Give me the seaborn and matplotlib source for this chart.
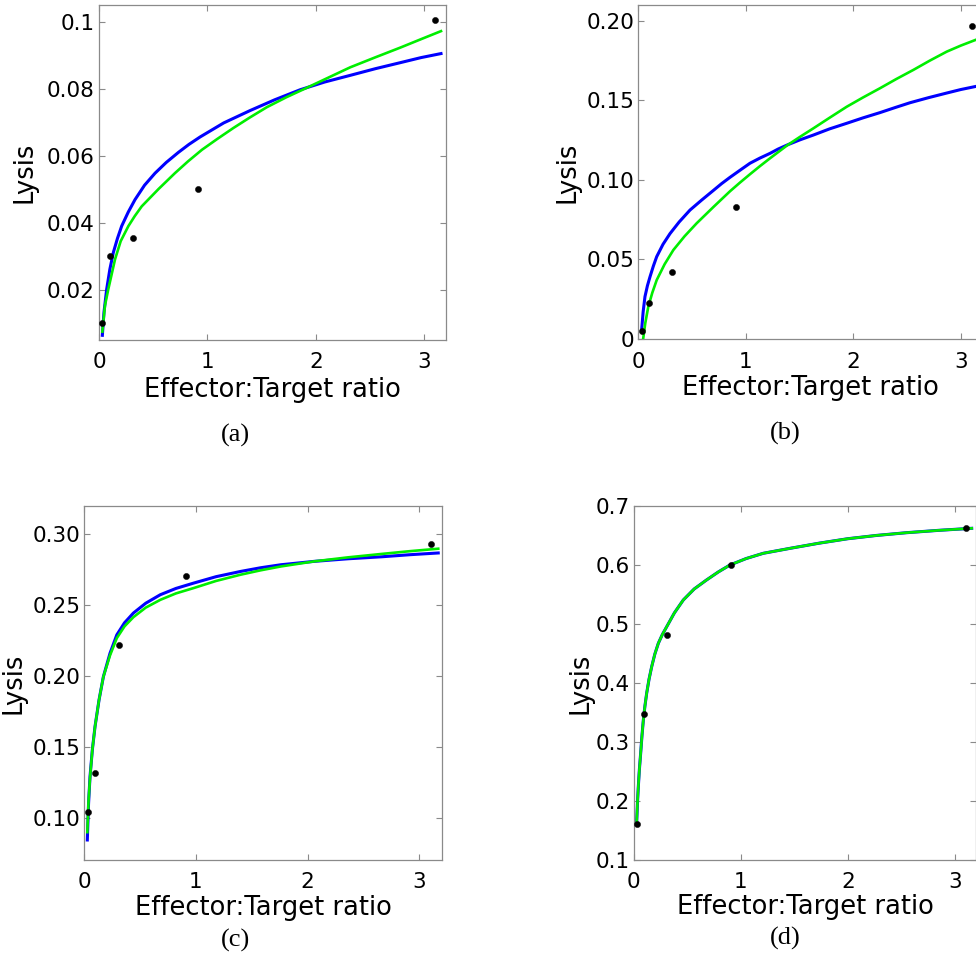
import matplotlib
matplotlib.use("Agg")
import matplotlib.pyplot as plt
import seaborn as sns

# ---- data -------------------------------------------------------------
# measured lysis at each effector:target ratio
et_ratio = [0.03, 0.1, 0.31, 0.91, 3.1]
lysis_a = [0.0101, 0.0301, 0.0355, 0.0501, 0.1005]
lysis_b = [0.0052, 0.0228, 0.0419, 0.0827, 0.1963]
lysis_c = [0.104, 0.1315, 0.222, 0.2703, 0.2932]
lysis_d = [0.1615, 0.3467, 0.4805, 0.5996, 0.6622]

# fitted curves, model 1 (blue) and model 2 (green)
a_blue_x = [0.031, 0.046, 0.071, 0.1, 0.132, 0.17, 0.209, 0.27, 0.332, 0.42,
            0.517, 0.62, 0.732, 0.83, 0.932, 1.15, 1.394, 1.62, 1.855, 2.08,
            2.317, 2.55, 2.78, 2.97, 3.154]
a_blue_y = [0.0064, 0.0133, 0.0202, 0.0261, 0.0311, 0.0353, 0.039, 0.0432, 0.0469,
            0.0512, 0.0548, 0.058, 0.061, 0.0634, 0.0656, 0.0698, 0.0735, 0.0767,
            0.0797, 0.082, 0.084, 0.086, 0.0878, 0.0893, 0.0905]
a_green_x = [0.031, 0.055, 0.086, 0.148, 0.2, 0.271, 0.33, 0.394, 0.55, 0.70,
             0.82, 0.95, 1.09, 1.24, 1.39, 1.548, 1.73, 1.917, 2.12, 2.317,
             2.55, 2.78, 2.97, 3.154]
a_green_y = [0.0075, 0.0153, 0.0202, 0.0291, 0.0345, 0.039, 0.042, 0.0449, 0.0501,
             0.0548, 0.0583, 0.0618, 0.065, 0.0683, 0.0714, 0.0745, 0.0775, 0.0803,
             0.0834, 0.0864, 0.0894, 0.0923, 0.0948, 0.0972]

b_blue_x = [0.031, 0.045, 0.062, 0.085, 0.109, 0.14, 0.171, 0.23, 0.295, 0.38,
            0.481, 0.59, 0.698, 0.775, 0.852, 0.946, 1.039, 1.13, 1.225, 1.3,
            1.386, 1.5, 1.628, 1.78, 1.939, 2.09, 2.248, 2.39, 2.527, 2.7,
            2.869, 3.0, 3.15]
b_blue_y = [0.0057, 0.017, 0.0266, 0.0335, 0.0391, 0.0458, 0.0517, 0.0595, 0.0662,
            0.0735, 0.081, 0.0873, 0.0933, 0.0976, 0.1015, 0.106, 0.1104, 0.1136,
            0.1166, 0.1193, 0.1219, 0.125, 0.1281, 0.132, 0.1355, 0.1389, 0.1422,
            0.1454, 0.1484, 0.1516, 0.1545, 0.1567, 0.1588]
b_green_x = [0.045, 0.065, 0.093, 0.13, 0.171, 0.245, 0.326, 0.43, 0.543, 0.7,
             0.853, 0.945, 1.039, 1.13, 1.225, 1.386, 1.5, 1.628, 1.78, 1.939,
             2.09, 2.248, 2.4, 2.558, 2.71, 2.869, 3.0, 3.15]
b_green_y = [0.0, 0.010, 0.0203, 0.029, 0.037, 0.047, 0.0559, 0.0645, 0.0727,
             0.083, 0.0928, 0.0982, 0.1035, 0.1085, 0.1135, 0.1217, 0.1268, 0.1323,
             0.139, 0.1459, 0.1517, 0.1575, 0.1633, 0.169, 0.1748, 0.1805, 0.1843,
             0.1882]

c_blue_x = [0.027, 0.038, 0.051, 0.072, 0.096, 0.132, 0.171, 0.23, 0.291, 0.36,
            0.44, 0.55, 0.681, 0.82, 0.98, 1.18, 1.4, 1.58, 1.76, 2.06, 2.36,
            2.66, 2.92, 3.169]
c_blue_y = [0.0845, 0.110, 0.129, 0.148, 0.1644, 0.1832, 0.1996, 0.216, 0.229,
            0.2375, 0.2444, 0.2513, 0.2573, 0.2617, 0.2655, 0.27, 0.2737, 0.2763,
            0.2784, 0.2808, 0.2826, 0.284, 0.2855, 0.2867]
c_green_x = [0.027, 0.038, 0.051, 0.072, 0.096, 0.132, 0.171, 0.23, 0.291, 0.36,
             0.44, 0.55, 0.681, 0.82, 0.98, 1.18, 1.4, 1.58, 1.76, 2.06, 2.36,
             2.66, 2.92, 3.169]
c_green_y = [0.090, 0.112, 0.128, 0.148, 0.1644, 0.1832, 0.1996, 0.2145, 0.2267,
             0.235, 0.2415, 0.2482, 0.2537, 0.2582, 0.262, 0.267, 0.2714, 0.2745,
             0.2772, 0.2808, 0.2836, 0.286, 0.288, 0.2897]

d_green_x = [0.028, 0.035, 0.043, 0.053, 0.065, 0.077, 0.09, 0.105, 0.121, 0.143,
             0.168, 0.197, 0.23, 0.268, 0.308, 0.38, 0.463, 0.565, 0.68, 0.79,
             0.899, 1.05, 1.21, 1.46, 1.73, 2.0, 2.27, 2.549, 2.85, 3.156]
d_green_y = [0.1649, 0.196, 0.224, 0.253, 0.2807, 0.31, 0.337, 0.361, 0.3823,
             0.406, 0.4274, 0.4485, 0.467, 0.482, 0.495, 0.5185, 0.5403, 0.559,
             0.5742, 0.5878, 0.5996, 0.6105, 0.6194, 0.6278, 0.6365, 0.6441, 0.6497,
             0.6543, 0.6583, 0.6617]
# in panel (d) both fits coincide
d_blue_x = d_green_x
d_blue_y = d_green_y

x_ticks = [0, 1, 2, 3]
y_ticks_a = [0.02, 0.04, 0.06, 0.08, 0.1]
y_labels_a = ["0.02", "0.04", "0.06", "0.08", "0.1"]
y_ticks_b = [0, 0.05, 0.10, 0.15, 0.20]
y_labels_b = ["0", "0.05", "0.10", "0.15", "0.20"]
y_ticks_c = [0.10, 0.15, 0.20, 0.25, 0.30]
y_labels_c = ["0.10", "0.15", "0.20", "0.25", "0.30"]
y_ticks_d = [0.1, 0.2, 0.3, 0.4, 0.5, 0.6, 0.7]
y_labels_d = ["0.1", "0.2", "0.3", "0.4", "0.5", "0.6", "0.7"]

# ---- figure -----------------------------------------------------------
W, H = 976, 955
plt.rcParams["font.family"] = ["DejaVu Sans"]
fig = plt.figure(figsize=(W / 100, H / 100), dpi=100)

EDGE = "#8a8a8a"
BLUE = "#0000ff"
GREEN = "#00ee00"


def fig_xy(px, py):
    return px / W, 1 - py / H


panels = [
    dict(box=(99, 446, 5, 340), ylim=(0.005, 0.105),
         yt=y_ticks_a, yl=y_labels_a,
         blue=(a_blue_x, a_blue_y), green=(a_green_x, a_green_y), pts=lysis_a,
         xlab=390, ylab=24.7, tag="(a)", tag_xy=(235, 435)),
    dict(box=(638.3, 982.3, 5, 339), ylim=(0.0, 0.2098),
         yt=y_ticks_b, yl=y_labels_b,
         blue=(b_blue_x, b_blue_y), green=(b_green_x, b_green_y), pts=lysis_b,
         xlab=388, ylab=567.5, tag="(b)", tag_xy=(785, 433)),
    dict(box=(84.3, 441.7, 505.7, 860), ylim=(0.0704, 0.32),
         yt=y_ticks_c, yl=y_labels_c,
         blue=(c_blue_x, c_blue_y), green=(c_green_x, c_green_y), pts=lysis_c,
         xlab=908, ylab=13.7, tag="(c)", tag_xy=(235, 940)),
    dict(box=(633.7, 976.4, 505.7, 860), ylim=(0.1, 0.7),
         yt=y_ticks_d, yl=y_labels_d,
         blue=(d_blue_x, d_blue_y), green=(d_green_x, d_green_y), pts=lysis_d,
         xlab=906.7, ylab=580, tag="(d)", tag_xy=(785, 938)),
]

for p in panels:
    L, R, T, B = p["box"]
    ax = fig.add_axes([L / W, 1 - B / H, (R - L) / W, (B - T) / H])

    sns.lineplot(x=p["blue"][0], y=p["blue"][1], ax=ax, color=BLUE, lw=2.2,
                 estimator=None, sort=False, zorder=2)
    sns.lineplot(x=p["green"][0], y=p["green"][1], ax=ax, color=GREEN, lw=1.9,
                 estimator=None, sort=False, zorder=3)
    sns.scatterplot(x=et_ratio, y=p["pts"], ax=ax, color="black", s=20,
                    edgecolor="black", linewidth=0.3, zorder=4)

    ax.set_xlim(0, 3.2)
    ax.set_ylim(*p["ylim"])
    ax.set_xticks(x_ticks)
    ax.set_xticklabels([str(t) for t in x_ticks])
    ax.set_yticks(p["yt"])
    ax.set_yticklabels(p["yl"])

    for s in ax.spines.values():
        s.set_color(EDGE)
        s.set_linewidth(0.9)
    ax.tick_params(direction="in", length=4, width=0.8, color=EDGE,
                   labelsize=15.5, top=True, right=True)
    ax.tick_params(axis="x", pad=9)
    ax.tick_params(axis="y", pad=3)

    ax.set_xlabel("Effector:Target ratio", fontsize=18.5, va="center")
    ax.xaxis.set_label_coords(*fig_xy((L + R) / 2, p["xlab"]),
                              transform=fig.transFigure)
    ax.set_ylabel("Lysis", fontsize=18.5, va="center")
    ax.yaxis.set_label_coords(*fig_xy(p["ylab"], (T + B) / 2),
                              transform=fig.transFigure)

    fig.text(*fig_xy(*p["tag_xy"]), p["tag"], ha="center", va="center",
             fontsize=19, family=["Liberation Serif"])

fig.savefig("out.png", dpi=100)
